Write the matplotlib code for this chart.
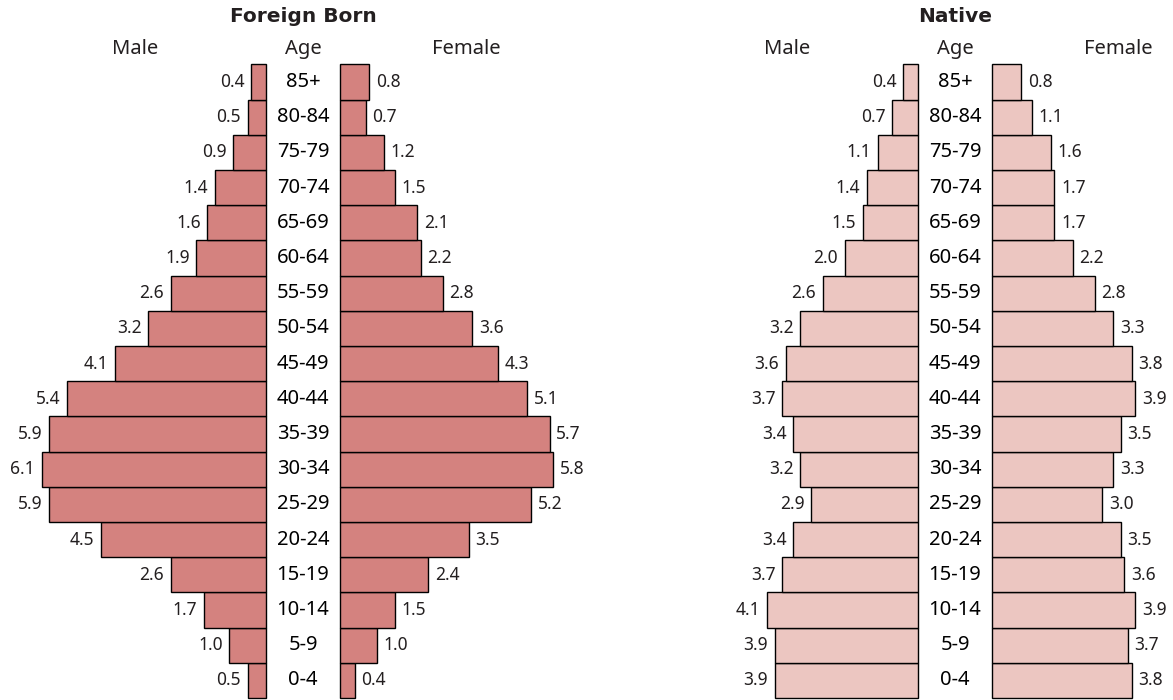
import numpy as np
import matplotlib
matplotlib.use("Agg")
import matplotlib.pyplot as plt

plt.rcParams["font.family"] = ["Noto Sans", "DejaVu Sans"]

ages = ["0-4", "5-9", "10-14", "15-19", "20-24", "25-29", "30-34", "35-39",
        "40-44", "45-49", "50-54", "55-59", "60-64", "65-69", "70-74",
        "75-79", "80-84", "85+"]

foreign_male = [0.5, 1.0, 1.7, 2.6, 4.5, 5.9, 6.1, 5.9, 5.4, 4.1, 3.2, 2.6,
                1.9, 1.6, 1.4, 0.9, 0.5, 0.4]
foreign_female = [0.4, 1.0, 1.5, 2.4, 3.5, 5.2, 5.8, 5.7, 5.1, 4.3, 3.6, 2.8,
                  2.2, 2.1, 1.5, 1.2, 0.7, 0.8]
native_male = [3.9, 3.9, 4.1, 3.7, 3.4, 2.9, 3.2, 3.4, 3.7, 3.6, 3.2, 2.6,
               2.0, 1.5, 1.4, 1.1, 0.7, 0.4]
native_female = [3.8, 3.7, 3.9, 3.6, 3.5, 3.0, 3.3, 3.5, 3.9, 3.8, 3.3, 2.8,
                 2.2, 1.7, 1.7, 1.6, 1.1, 0.8]

panels = [
    ("Foreign Born", foreign_male, foreign_female, "#d4827f", 303),
    ("Native", native_male, native_female, "#ecc6c1", 955),
]

W, H = 1173, 700
px_x = 36.8   # pixels per percentage point
px_y = 35.2   # pixels per age group
gap = 1.0     # half gap between male and female bars (data units)
txt = "#231f20"

fig = plt.figure(figsize=(W / 100, H / 100), dpi=100)
ax = fig.add_axes([0, 0, 1, 1])
ax.set_xlim(0, W / px_x)
ax.set_ylim(-0.5 - 2 / px_y, -0.5 + 698 / px_y)
ax.axis("off")

y = np.arange(len(ages))
for title, male, female, color, cx_px in panels:
    cx = cx_px / px_x
    male = np.array(male)
    female = np.array(female)
    ax.barh(y, male, left=cx - gap - male, height=1.0, color=color,
            edgecolor="black", linewidth=1.0)
    ax.barh(y, female, left=cx + gap, height=1.0, color=color,
            edgecolor="black", linewidth=1.0)
    for yi, a, m, f in zip(y, ages, male, female):
        ax.text(cx, yi, a, ha="center", va="center", fontsize=14.5, color="black")
        ax.text(cx - gap - m - 0.18, yi, f"{m:.1f}", ha="right",
                va="center", fontsize=12.5, color=txt)
        ax.text(cx + gap + f + 0.18, yi, f"{f:.1f}", ha="left",
                va="center", fontsize=12.5, color=txt)
    ax.text(cx, 17.95, "Age", ha="center", va="center", fontsize=14.5, color=txt)
    ax.text(cx - 4.55, 17.95, "Male", ha="center", va="center", fontsize=14.5,
            color=txt)
    ax.text(cx + 4.45, 17.95, "Female", ha="center", va="center", fontsize=14.5,
            color=txt)
    ax.text(cx, 18.85, title, ha="center", va="center", fontsize=14.5,
            fontweight="bold", family="DejaVu Sans", color=txt)

fig.savefig("out.png", dpi=100)
